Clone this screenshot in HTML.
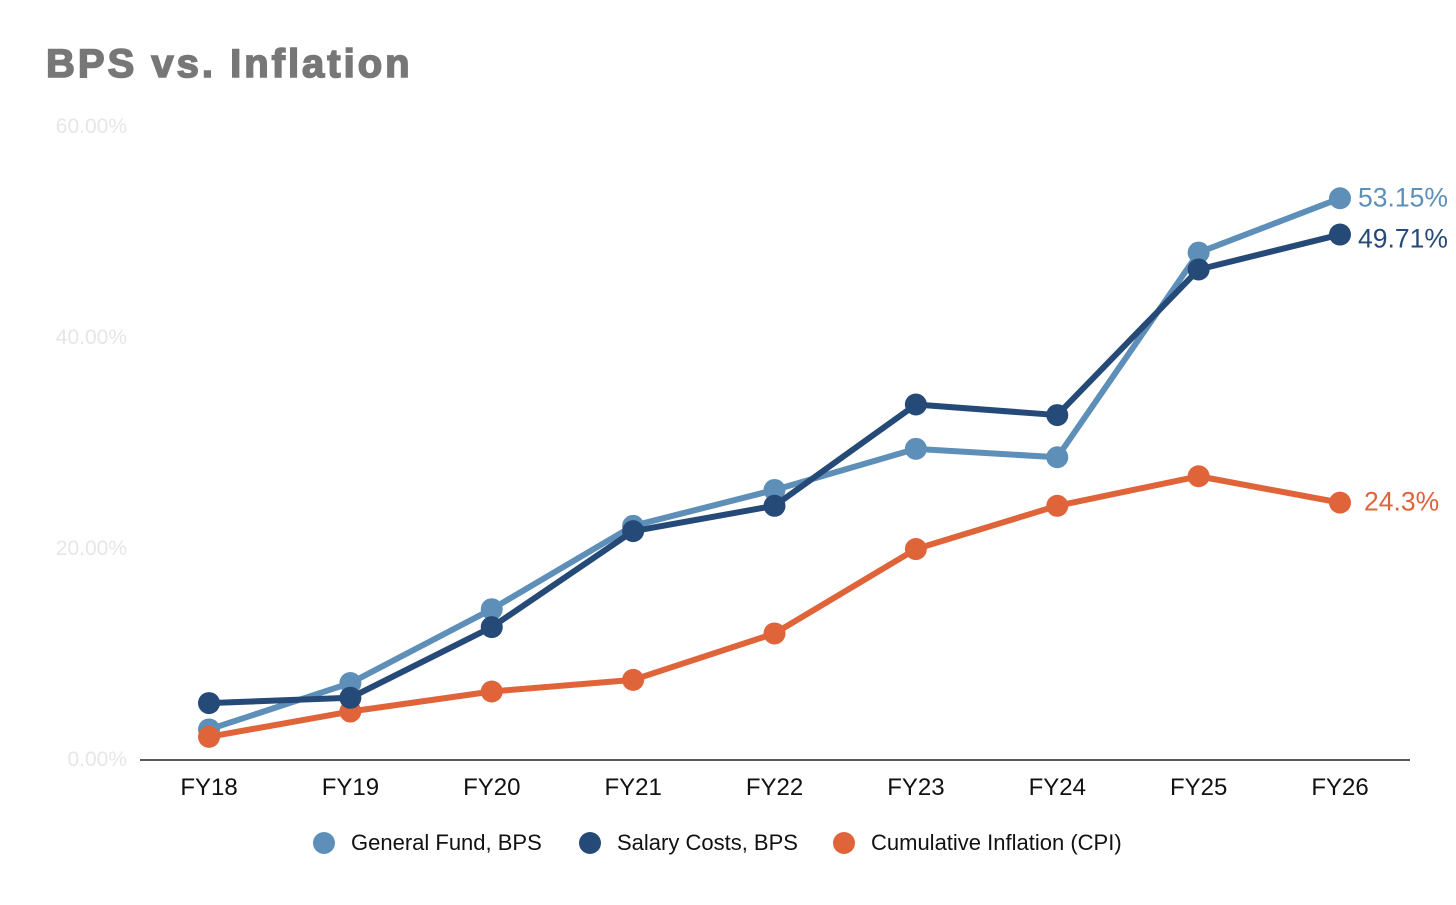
<!DOCTYPE html>
<html><head><meta charset="utf-8">
<style>
html,body{margin:0;padding:0;background:#fff;}
body{width:1456px;height:900px;overflow:hidden;font-family:"Liberation Sans",sans-serif;}
</style></head>
<body>
<svg width="1456" height="900" xmlns="http://www.w3.org/2000/svg">
<text x="46" y="77" font-family="Liberation Sans, sans-serif" font-size="40" font-weight="bold" letter-spacing="3" fill="#777" stroke="#777" stroke-width="1.6">BPS vs. Inflation</text>
<g id="yaxis"></g>
<line x1="140" y1="760" x2="1410" y2="760" stroke="#222" stroke-width="1.5"/>
<g id="xaxis"></g>
<g id="series"></g>
<g id="legend"></g>
</svg>
<script>
const categories = ["FY18","FY19","FY20","FY21","FY22","FY23","FY24","FY25","FY26"];
const generalFund = [2.8,7.2,14.2,22.1,25.5,29.4,28.6,48.0,53.15];
const salaryCosts = [5.3,5.8,12.5,21.6,24.0,33.6,32.6,46.4,49.71];
const inflation = [2.1,4.5,6.4,7.5,11.9,19.9,24.0,26.8,24.3];
const yTicks = [0,20,40,60];
const yTickLabels = ["0.00%","20.00%","40.00%","60.00%"];
const endLabels = ["53.15%","49.71%","24.3%"];
const seriesNames = ["General Fund, BPS","Salary Costs, BPS","Cumulative Inflation (CPI)"];

const NS="http://www.w3.org/2000/svg";
function xs(i){return 209 + i*(1340-209)/(categories.length-1);}
function ys(v){return 759 - v*(759-126)/60;}
function mk(tag,attrs,parent){const e=document.createElementNS(NS,tag);for(const k in attrs)e.setAttribute(k,attrs[k]);parent.appendChild(e);return e;}

const ya=document.getElementById('yaxis');
yTicks.forEach((t,i)=>{
  const e=mk('text',{x:127,y:ys(t)+7,'text-anchor':'end','font-size':21,fill:'#e6e6e6','font-family':'Liberation Sans, sans-serif'},ya);
  e.textContent=yTickLabels[i];
  
  
});
const xa=document.getElementById('xaxis');
categories.forEach((c,i)=>{
  const e=mk('text',{x:xs(i),y:795,'text-anchor':'middle','font-size':24,fill:'#111','font-family':'Liberation Sans, sans-serif'},xa);
  e.textContent=c;
  
  
});
const colors=["#5e8fb9","#264a77","#e0643a"];
const data=[generalFund,salaryCosts,inflation];
const sg=document.getElementById('series');
const labelDy=[0,5,0];
[0,2,1].forEach(s=>{
  const vals=data[s];
  const g=mk('g',{},sg);
  
  
  const pts=vals.map((v,i)=>xs(i)+','+ys(v)).join(' ');
  const l=mk('polyline',{points:pts,fill:'none',stroke:colors[s],'stroke-width':6,'stroke-linejoin':'round'},g);
  
  
  vals.forEach((v,i)=>{
    const c=mk('circle',{cx:xs(i),cy:ys(v),r:11,fill:colors[s]},g);
    
    
  });
  const last=vals.length-1;
  const t=mk('text',{x:xs(last)+18+(s==2?6:0),y:ys(vals[last])+8+labelDy[s],'font-size':26.5,fill:colors[s],'font-family':'Liberation Sans, sans-serif'},g);
  t.textContent=endLabels[s];
  
  
});
const lg=document.getElementById('legend');
const lx=[324,590,844];
seriesNames.forEach((n,i)=>{
  const c=mk('circle',{cx:lx[i],cy:843,r:11,fill:colors[i]},lg);
  
  
  const t=mk('text',{x:lx[i]+27,y:850,'font-size':22,fill:'#111','font-family':'Liberation Sans, sans-serif'},lg);
  t.textContent=n;
  
  
});
</script>
</body></html>
